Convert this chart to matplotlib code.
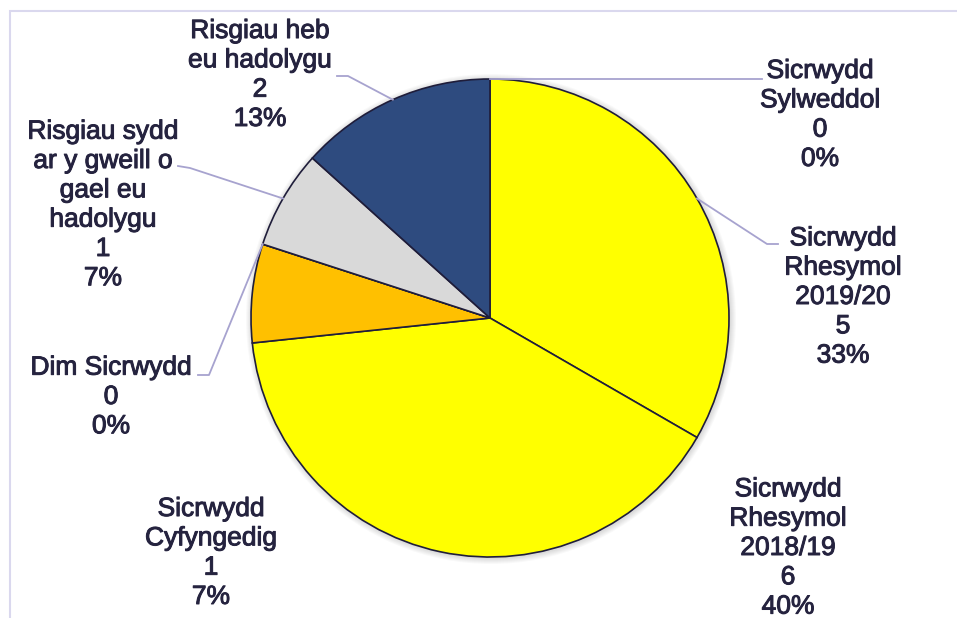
import numpy as np
import matplotlib
matplotlib.use("Agg")
import matplotlib.pyplot as plt
import matplotlib.patheffects as pe
from matplotlib.patches import Circle, Rectangle

# ---- data ----
categories = ["Sicrwydd\nSylweddol",
              "Sicrwydd\nRhesymol\n2019/20",
              "Sicrwydd\nRhesymol\n2018/19",
              "Sicrwydd\nCyfyngedig",
              "Dim Sicrwydd",
              "Risgiau sydd\nar y gweill o\ngael eu\nhadolygu",
              "Risgiau heb\neu hadolygu"]
values = [0, 5, 6, 1, 0, 1, 2]
colors = ["#FFFF00", "#FFFF00", "#FFFF00", "#FFC000", "#FFC000", "#D9D9D9", "#2E4B7F"]

# ---- layout (pixel space, y up) ----
W, H = 957, 618
cx, cy, R = 490, H - 318, 239
label_pos = [(820, H - 115), (843, H - 297), (788, H - 548), (211, H - 553),
             (111, H - 397), (103, H - 205), (260, H - 75)]
# leader elbow / end points per label (None = no leader)
leaders = [[(762, H - 79)],
           [(767, H - 244), (778, H - 244)],
           None,
           None,
           [(209, H - 375), (198, H - 375)],
           [(190, H - 168), (178, H - 166)],
           [(348, H - 76), (337, H - 76)]]

text_color = "#25233F"
lead_color = "#A7A3CF"

fig = plt.figure(figsize=(W / 100, H / 100), dpi=100)
ax = fig.add_axes([0, 0, 1, 1])

# frame
ax.add_patch(Rectangle((10, -20), W + 20, H - 11 + 20, fill=False,
                       edgecolor="#DAD8EE", linewidth=1.5, zorder=0))

# soft shadow
for i in range(6):
    ax.add_patch(Circle((cx + 1, cy - 1), R + 1 + i, facecolor="black",
                        alpha=0.025, edgecolor="none", zorder=1))

wedges, _ = ax.pie(values, colors=colors, startangle=90, counterclock=False,
                   center=(cx, cy), radius=R, frame=True,
                   wedgeprops=dict(edgecolor="#1F1D3A", linewidth=1.2))
for w in wedges:
    w.set_zorder(2)
ax.set_xlim(0, W)
ax.set_ylim(0, H)
ax.set_aspect("equal")
ax.axis("off")

total = sum(values)
for w, lab, v, (lx, ly), ld in zip(wedges, categories, values, label_pos, leaders):
    pct = round(100 * v / total)
    ax.text(lx, ly, f"{lab}\n{v}\n{pct}%", ha="center", va="center",
            fontsize=19, family="Liberation Sans", color=text_color,
            linespacing=1.28, zorder=5,
            path_effects=[pe.withStroke(linewidth=0.7, foreground=text_color)])
    if ld:
        mid = np.deg2rad((w.theta1 + w.theta2) / 2)
        ax_pt = (cx + R * np.cos(mid), cy + R * np.sin(mid))
        pts = [ax_pt] + ld
        xs, ys = zip(*pts)
        ax.plot(xs, ys, color=lead_color, linewidth=1.3, zorder=4)

fig.savefig("out.png", dpi=100)
